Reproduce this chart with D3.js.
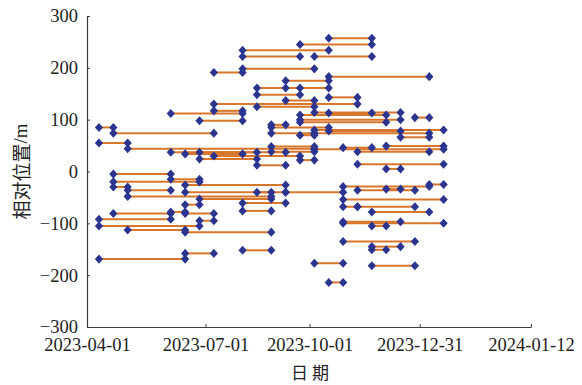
<!DOCTYPE html>
<html>
<head>
<meta charset="utf-8">
<script src="https://cdn.jsdelivr.net/npm/d3@7"></script>
<style>
  body { margin: 0; background: #fff; }
</style>
</head>
<body>
<div id="chart"></div>
<script>
// acquisition dates (12-day revisit)
const acqDates = [
  '2023-04-11', '2023-04-23', '2023-05-05', '2023-05-17', '2023-05-29',
  '2023-06-10', '2023-06-22', '2023-07-04', '2023-07-16', '2023-07-28',
  '2023-08-09', '2023-08-21', '2023-09-02', '2023-09-14', '2023-09-26',
  '2023-10-08', '2023-10-20', '2023-11-01', '2023-11-13', '2023-11-25',
  '2023-12-07', '2023-12-19', '2023-12-31', '2024-01-12', '2024-01-24'
];

// [start date index, end date index, relative position (m)]
const pairs = [
  [16, 19, 257], [14, 19, 245], [10, 16, 234], [10, 14, 222], [15, 19, 222],
  [10, 15, 198], [8, 10, 191], [16, 23, 183], [13, 16, 175], [11, 14, 161],
  [13, 16, 161], [11, 14, 148], [16, 18, 143], [13, 15, 137], [8, 18, 130],
  [11, 15, 125], [8, 10, 117], [15, 21, 114], [5, 10, 112], [16, 19, 113],
  [14, 20, 109], [22, 23, 104], [14, 21, 100], [7, 10, 98], [14, 20, 95],
  [12, 13, 90], [12, 16, 85], [0, 1, 85], [15, 24, 80], [16, 21, 78],
  [1, 8, 74], [12, 15, 74], [15, 23, 74], [14, 15, 70], [21, 23, 66],
  [0, 2, 55], [2, 15, 44], [12, 15, 48], [17, 19, 46], [20, 24, 49],
  [15, 24, 43], [18, 23, 38], [12, 15, 38], [5, 13, 37], [7, 11, 37],
  [6, 10, 34], [8, 14, 30], [7, 11, 24], [14, 15, 22], [18, 24, 14],
  [11, 13, 12], [20, 21, 5],
  [1, 5, -5], [5, 7, -15], [1, 7, -20], [23, 24, -25], [6, 13, -26],
  [17, 23, -29], [1, 2, -30], [20, 21, -34], [2, 5, -36], [18, 22, -36],
  [6, 12, -40], [11, 13, -40], [13, 17, -40], [2, 12, -48], [7, 12, -53],
  [17, 24, -54], [10, 13, -61], [6, 7, -64], [17, 18, -68], [18, 22, -68],
  [10, 12, -76], [19, 23, -78], [5, 6, -78], [1, 5, -81], [6, 8, -81],
  [0, 5, -92], [7, 8, -95], [17, 21, -97], [17, 24, -100], [19, 20, -105],
  [0, 7, -105], [2, 6, -113], [6, 12, -117], [17, 22, -135], [19, 21, -145],
  [19, 20, -151], [10, 12, -152], [6, 8, -158], [0, 6, -169], [15, 17, -177],
  [19, 22, -182], [16, 17, -214]
];

const yTicks = [300, 200, 100, 0, -100, -200, -300];
const xTickDates = ['2023-04-01', '2023-07-09', '2023-10-04', '2024-01-04', '2024-04-06'];
const xTickLabels = ['2023-04-01', '2023-07-01', '2023-10-01', '2023-12-31', '2024-01-12'];

const width = 582, height = 385;
const margin = { top: 16, right: 51, bottom: 58, left: 87 };
const parse = d3.timeParse('%Y-%m-%d');

const svg = d3.select('#chart').append('svg')
  .attr('width', width)
  .attr('height', height);

const x = d3.scaleTime()
  .domain([parse('2023-04-01'), parse('2024-04-06')])
  .range([margin.left, width - margin.right]);

const y = d3.scaleLinear()
  .domain([-300, 300])
  .range([height - margin.bottom, margin.top]);

const axisColor = '#3a3a3a';
const serif = '"Liberation Serif", "DejaVu Serif", serif';

// x axis
const gx = svg.append('g')
  .attr('transform', `translate(0,${height - margin.bottom})`)
  .call(d3.axisBottom(x)
    .tickValues(xTickDates.map(parse))
    .tickFormat((d, i) => xTickLabels[i])
    .tickSizeInner(-3)
    .tickSizeOuter(0)
    .tickPadding(11));
gx.select('.domain').attr('stroke', axisColor).attr('stroke-width', 1.2);
gx.selectAll('.tick line').attr('stroke', axisColor);
gx.selectAll('.tick text')
  .attr('fill', '#222')
  .attr('font-family', serif)
  .attr('font-size', 18.5);

// y axis
const gy = svg.append('g')
  .attr('transform', `translate(${margin.left},0)`)
  .call(d3.axisLeft(y)
    .tickValues(yTicks)
    .tickFormat(d => d < 0 ? '\u2212' + Math.abs(d) : d)
    .tickSizeInner(-3)
    .tickSizeOuter(0)
    .tickPadding(9));
gy.select('.domain').attr('stroke', axisColor).attr('stroke-width', 1.2);
gy.selectAll('.tick line').attr('stroke', axisColor);
gy.selectAll('.tick text')
  .attr('fill', '#222')
  .attr('font-family', serif)
  .attr('font-size', 18.5);

// segments
svg.append('g')
  .selectAll('line')
  .data(pairs)
  .enter().append('line')
  .attr('x1', d => x(parse(acqDates[d[0]])))
  .attr('x2', d => x(parse(acqDates[d[1]])))
  .attr('y1', d => y(d[2]))
  .attr('y2', d => y(d[2]))
  .attr('stroke', '#d8772c')
  .attr('stroke-width', 2);

// diamond markers
const diamond = {
  draw(context, size) {
    const w = Math.sqrt(size) / 2, h = w * 1.1;
    context.moveTo(0, -h);
    context.lineTo(w, 0);
    context.lineTo(0, h);
    context.lineTo(-w, 0);
    context.closePath();
  }
};
const pts = [];
pairs.forEach(p => {
  pts.push([p[0], p[2]]);
  pts.push([p[1], p[2]]);
});
svg.append('g')
  .selectAll('path')
  .data(pts)
  .enter().append('path')
  .attr('transform', d => `translate(${x(parse(acqDates[d[0]]))},${y(d[1])})`)
  .attr('d', d3.symbol().type(diamond).size(68))
  .attr('fill', '#2b3590');

// axis titles
svg.append('text')
  .attr('transform', `translate(20,${(margin.top + height - margin.bottom) / 2}) rotate(-90)`)
  .attr('text-anchor', 'middle')
  .attr('dominant-baseline', 'central')
  .attr('fill', '#222')
  .attr('font-size', 19)
  .call(t => {
    t.append('tspan').attr('font-family', '"Noto Sans CJK SC"').text('相对位置');
    t.append('tspan').attr('font-family', serif).text('/m');
  });

svg.append('text')
  .attr('x', 312)
  .attr('y', 379)
  .attr('text-anchor', 'middle')
  .attr('fill', '#222')
  .attr('font-family', '"Noto Sans CJK SC"')
  .attr('font-size', 17)
  .attr('letter-spacing', 4)
  .text('日期');
</script>
</body>
</html>
